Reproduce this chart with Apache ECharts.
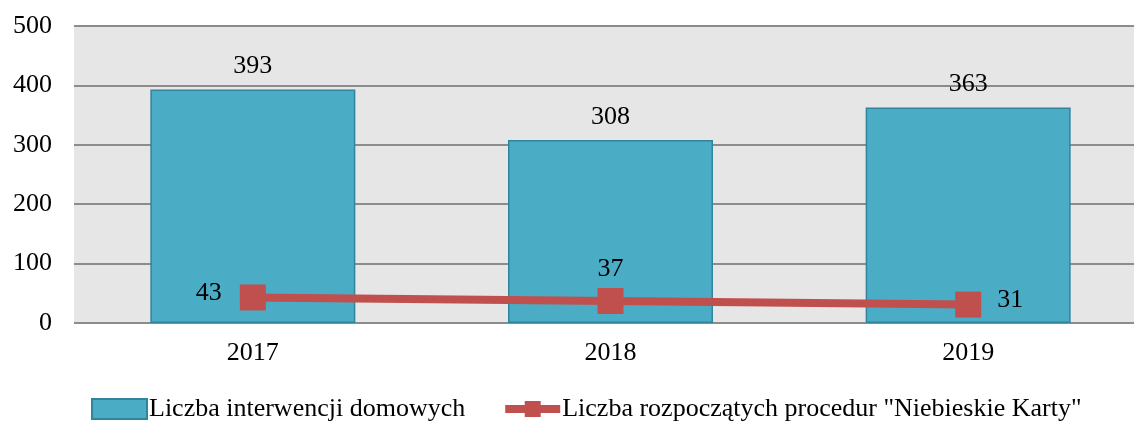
<!DOCTYPE html>
<html>
<head>
<meta charset="utf-8">
<script src="https://cdn.jsdelivr.net/npm/echarts@6/dist/echarts.min.js"></script>
<style>
  html, body { margin: 0; padding: 0; background: #fff; overflow: hidden; }
  /* plot area runs past the right edge in the original, so the canvas is wider than the window */
  #chart { width: 1147px; height: 422px; }
</style>
</head>
<body>
<div id="chart"></div>
<script>
const years = ['2017', '2018', '2019']
const interwencje = [393, 308, 363]
const niebieskieKarty = [43, 37, 31]
// label side for each line point
const linePositions = ['left', 'top', 'right']
const lineDistances = [18, 2, 16]

const font = 'Liberation Serif, Times New Roman, serif'
const chart = echarts.init(document.getElementById('chart'))

chart.setOption({
  animation: false,
  textStyle: { fontFamily: font },
  grid: {
    left: 74, right: 0, top: 26, height: 297,
    show: true, backgroundColor: '#e6e6e6', borderWidth: 0
  },
  legend: {
    top: 391,
    left: 86,
    itemWidth: 55,
    itemHeight: 20,
    itemGap: 36,
    textStyle: { fontSize: 26, color: '#000', fontFamily: font, padding: [0, 0, 0, -3] },
    data: [
      { name: 'Liczba interwencji domowych', icon: 'rect' },
      { name: 'Liczba rozpoczątych procedur "Niebieskie Karty"', lineStyle: { width: 8 } }
    ]
  },
  xAxis: {
    type: 'category',
    data: years,
    axisLine: { show: false },
    axisTick: { show: false },
    axisLabel: { fontSize: 26, color: '#000', margin: 17, fontFamily: font }
  },
  yAxis: {
    type: 'value',
    min: 0,
    max: 500,
    interval: 100,
    axisLine: { show: false },
    axisTick: { show: false },
    axisLabel: { fontSize: 26, color: '#000', margin: 22, fontFamily: font },
    splitLine: { lineStyle: { color: '#8c8c8c', width: 2 } }
  },
  series: [
    {
      name: 'Liczba interwencji domowych',
      type: 'bar',
      data: interwencje,
      barWidth: 205,
      itemStyle: { color: '#4bacc6', borderColor: '#31849b', borderWidth: 1.5 },
      label: {
        show: true, position: 'top', distance: 10,
        fontSize: 26, color: '#000', fontFamily: font
      }
    },
    {
      name: 'Liczba rozpoczątych procedur "Niebieskie Karty"',
      type: 'line',
      data: niebieskieKarty.map((v, i) => ({
        value: v,
        label: { position: linePositions[i], distance: lineDistances[i] }
      })),
      symbol: 'rect',
      symbolSize: 26,
      lineStyle: { color: '#c0504d', width: 8 },
      itemStyle: { color: '#c0504d' },
      label: {
        show: true, offset: [0, -4],
        fontSize: 26, color: '#000', fontFamily: font
      }
    }
  ]
})
</script>
</body>
</html>
